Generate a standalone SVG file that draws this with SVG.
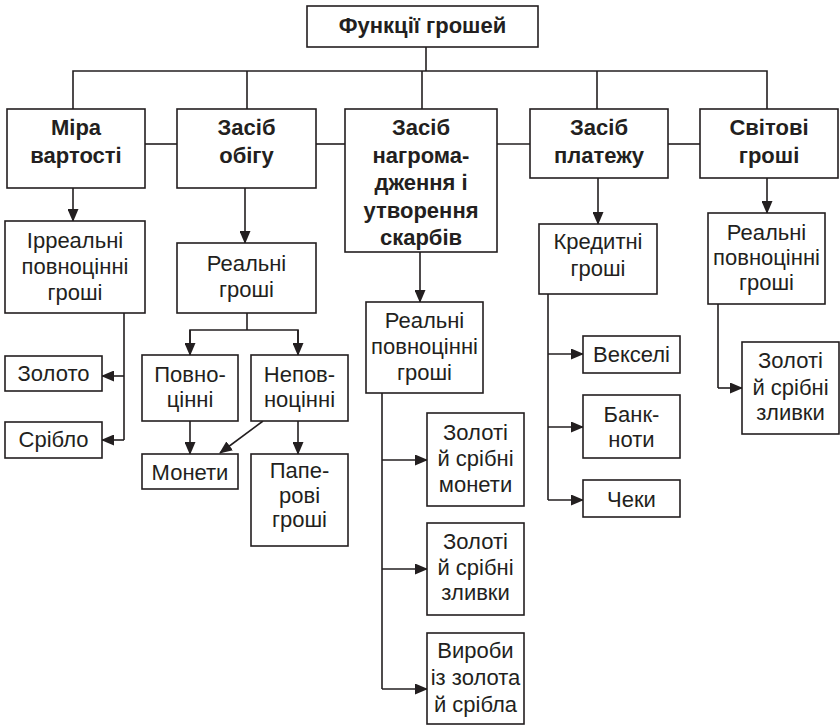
<svg xmlns="http://www.w3.org/2000/svg" width="840" height="726" viewBox="0 0 840 726">
<defs>
<marker id="arr" markerUnits="userSpaceOnUse" markerWidth="13" markerHeight="11" refX="12" refY="5.5" orient="auto">
<path d="M0,0 L13,5.5 L0,11 z" fill="#231f20"/>
</marker>
<style>
rect{fill:#fff;stroke:#231f20;stroke-width:1.6}
text{font-family:"Liberation Sans",Arial,Helvetica,sans-serif;font-size:22px;fill:#231f20;text-anchor:middle}
.b{font-weight:bold;font-size:22px}
#connectors line,#connectors polyline{stroke:#231f20;stroke-width:1.6;fill:none}
.a{marker-end:url(#arr)}
</style>
</defs>
<rect x="0" y="0" width="840" height="726" style="fill:#fff;stroke:none"/>
<g id="connectors">
<polyline points="426,47 426,71"/>
<polyline points="73,109 73,71 767,71 767,109"/>
<line x1="247" y1="71" x2="247" y2="109"/>
<line x1="422" y1="71" x2="422" y2="109"/>
<line x1="597" y1="71" x2="597" y2="109"/>
<line x1="145" y1="144" x2="177" y2="144"/>
<line x1="316" y1="144" x2="345" y2="144"/>
<line x1="497" y1="144" x2="530" y2="144"/>
<line x1="668" y1="144" x2="700" y2="144"/>
<line class="a" x1="73" y1="188" x2="73" y2="221"/>
<line class="a" x1="245" y1="188" x2="245" y2="243"/>
<line class="a" x1="420" y1="252" x2="420" y2="302"/>
<line class="a" x1="598" y1="178" x2="598" y2="224"/>
<line class="a" x1="767" y1="178" x2="767" y2="213"/>
<polyline points="124,313 124,440"/>
<line class="a" x1="124" y1="376" x2="102" y2="376"/>
<line class="a" x1="124" y1="440" x2="102" y2="440"/>
<polyline points="247,313 247,330"/>
<polyline points="190,355 190,330 298,330 298,355"/>
<line class="a" x1="190" y1="330" x2="190" y2="355"/>
<line class="a" x1="298" y1="330" x2="298" y2="355"/>
<line class="a" x1="190" y1="421" x2="190" y2="454"/>
<line class="a" x1="263" y1="421" x2="220" y2="453"/>
<line class="a" x1="298" y1="421" x2="298" y2="454"/>
<polyline points="382,393 382,689"/>
<line class="a" x1="382" y1="460" x2="427" y2="460"/>
<line class="a" x1="382" y1="569" x2="427" y2="569"/>
<line class="a" x1="382" y1="689" x2="427" y2="689"/>
<polyline points="548,294 548,500"/>
<line class="a" x1="548" y1="354" x2="583" y2="354"/>
<line class="a" x1="548" y1="427" x2="583" y2="427"/>
<line class="a" x1="548" y1="500" x2="583" y2="500"/>
<polyline points="718,304 718,388"/>
<line class="a" x1="718" y1="388" x2="742" y2="388"/>
</g>
<g id="n-root"><rect x="307" y="6" width="231" height="41"/><text class="b" x="422.5" y="33">Функції грошей</text></g>
<g id="n-mira"><rect x="7" y="109" width="138" height="79"/><text class="b" x="76" y="135">Міра</text><text class="b" x="76" y="163">вартості</text></g>
<g id="n-obig"><rect x="177" y="109" width="139" height="79"/><text class="b" x="246.5" y="135">Засіб</text><text class="b" x="246.5" y="163">обігу</text></g>
<g id="n-nagr"><rect x="345" y="109" width="152" height="143"/><text class="b" x="421" y="135">Засіб</text><text class="b" x="421" y="163">нагрома-</text><text class="b" x="421" y="190">дження і</text><text class="b" x="421" y="218">утворення</text><text class="b" x="421" y="245">скарбів</text></g>
<g id="n-plat"><rect x="530" y="109" width="138" height="69"/><text class="b" x="599" y="135">Засіб</text><text class="b" x="599" y="163">платежу</text></g>
<g id="n-svit"><rect x="700" y="109" width="138" height="69"/><text class="b" x="769" y="135">Світові</text><text class="b" x="769" y="163">гроші</text></g>
<g id="n-irr"><rect x="5" y="221" width="140" height="92"/><text x="75" y="248">Ірреальні</text><text x="75" y="274">повноцінні</text><text x="75" y="300">гроші</text></g>
<g id="n-zoloto"><rect x="5" y="356" width="97" height="35"/><text x="53.5" y="381">Золото</text></g>
<g id="n-sriblo"><rect x="5" y="422" width="97" height="36"/><text x="53.5" y="447">Срібло</text></g>
<g id="n-realni"><rect x="177" y="243" width="139" height="70"/><text x="246.5" y="271">Реальні</text><text x="246.5" y="297">гроші</text></g>
<g id="n-povno"><rect x="142" y="355" width="96" height="66"/><text x="190" y="382">Повно-</text><text x="190" y="407">цінні</text></g>
<g id="n-nepovno"><rect x="251" y="355" width="97" height="66"/><text x="299.5" y="382">Непов-</text><text x="299.5" y="407">ноцінні</text></g>
<g id="n-monety"><rect x="142" y="454" width="96" height="35"/><text x="190" y="480">Монети</text></g>
<g id="n-paper"><rect x="251" y="454" width="97" height="92"/><text x="299.5" y="478">Папе-</text><text x="299.5" y="503">рові</text><text x="299.5" y="527">гроші</text></g>
<g id="n-rpg-mid"><rect x="366" y="302" width="117" height="91"/><text x="424.5" y="328">Реальні</text><text x="424.5" y="354">повноцінні</text><text x="424.5" y="380">гроші</text></g>
<g id="n-zsm"><rect x="427" y="413" width="97" height="93"/><text x="475.5" y="440">Золоті</text><text x="475.5" y="466">й срібні</text><text x="475.5" y="492">монети</text></g>
<g id="n-zsz"><rect x="427" y="523" width="97" height="92"/><text x="475.5" y="549">Золоті</text><text x="475.5" y="575">й срібні</text><text x="475.5" y="600">зливки</text></g>
<g id="n-vyroby"><rect x="427" y="633" width="97" height="91"/><text x="475.5" y="658">Вироби</text><text x="475.5" y="685">із золота</text><text x="475.5" y="712">й срібла</text></g>
<g id="n-kred"><rect x="539" y="224" width="118" height="70"/><text x="598" y="249">Кредитні</text><text x="598" y="276">гроші</text></g>
<g id="n-veks"><rect x="583" y="336" width="97" height="37"/><text x="631.5" y="362">Векселі</text></g>
<g id="n-bank"><rect x="583" y="395" width="97" height="63"/><text x="631.5" y="422">Банк-</text><text x="631.5" y="447">ноти</text></g>
<g id="n-cheky"><rect x="583" y="480" width="97" height="37"/><text x="631.5" y="507">Чеки</text></g>
<g id="n-rpg-right"><rect x="708" y="213" width="117" height="91"/><text x="766.5" y="240">Реальні</text><text x="766.5" y="265">повноцінні</text><text x="766.5" y="290">гроші</text></g>
<g id="n-zsz-right"><rect x="742" y="342" width="97" height="92"/><text x="790.5" y="368">Золоті</text><text x="790.5" y="395">й срібні</text><text x="790.5" y="420">зливки</text></g>
</svg>
